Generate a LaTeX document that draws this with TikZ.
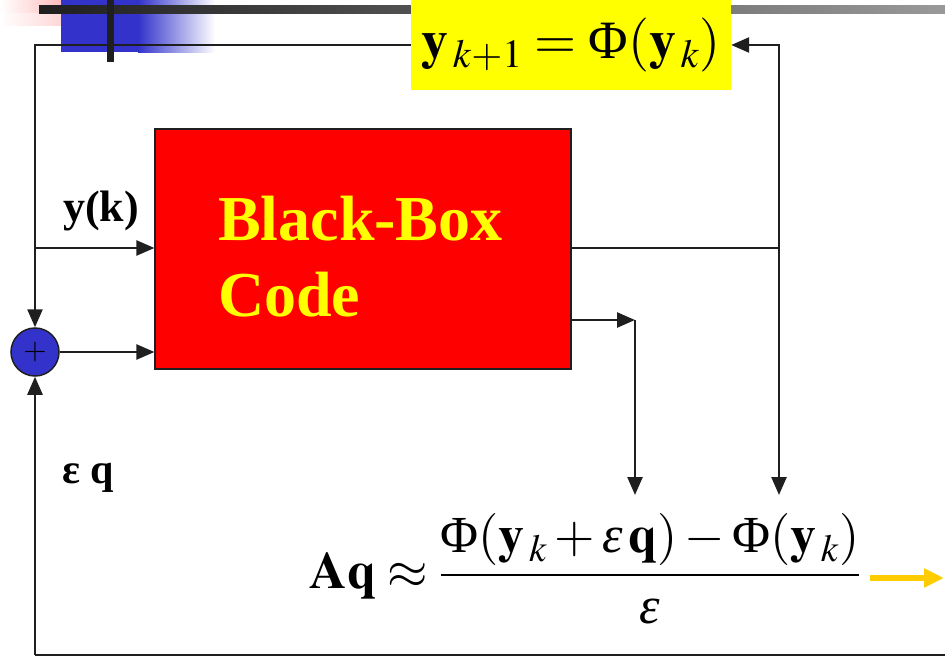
\documentclass[tikz,border=0pt]{standalone}
\usepackage{amsmath}
\usepackage{mathptmx}
\usepackage{fontspec}
\setmainfont{Liberation Serif}
\usetikzlibrary{arrows.meta}
\definecolor{slideblue}{HTML}{3333CC}
\definecolor{boxred}{HTML}{FF0000}
\definecolor{hiyellow}{HTML}{FFFF00}
\definecolor{arrowgold}{HTML}{FFCC00}
\definecolor{barpink}{HTML}{FF9090}
\newcommand{\Phit}{\text{Φ}}
\newcommand{\epst}{\textit{ε}}

\begin{document}
\begin{tikzpicture}[x=1pt, y=-1pt, >={Triangle[length=18pt,width=15pt]},
  wire/.style={line width=2.5pt, draw=black!88},
  bigtxt/.style={font=\fontsize{64}{70}\selectfont\bfseries, text=hiyellow}]
  \useasboundingbox (0,0) rectangle (945,658);
  % slide corner decoration
  \shade[left color=white, right color=barpink!90] (0,0) rectangle (92,26);
  \shade[top color=white, bottom color=white, opacity=0.4] (0,14) rectangle (92,26);
  \fill[slideblue] (61,0) rectangle (138,52);
  \shade[left color=slideblue, right color=white] (138,0) rectangle (215,53);
  \shade[left color=black!88, right color=black!40] (39,6) rectangle (945,14);

  % blocks
  \node[draw=black!88, line width=1.2pt, fill=boxred, minimum width=416pt, minimum height=240pt] (box) at (363,249) {};
  \node[bigtxt, align=left, anchor=west, inner sep=0pt] (boxtxt) at (218,257) {Black-Box\\[6pt]Code};
  \node[fill=hiyellow, minimum width=320pt, minimum height=90pt, font=\fontsize{54}{60}\selectfont] (phi) at (571,45) {$\mathbf{y}_{\,k+1}=\Phit(\mathbf{y}_{\,k})$};
  \node[circle, draw=black!88, line width=1.5pt, fill=slideblue, minimum size=48pt, inner sep=0pt, font=\fontsize{30}{30}\selectfont] (sum) at (35,352) {$+$};

  \node[font=\fontsize{44}{48}\selectfont\bfseries] (ylab) at (101,211) {y(k)};
  \node[font=\fontsize{42}{46}\selectfont\bfseries] (eqlab) at (88,478) {ε q};
  \node[font=\fontsize{52}{60}\selectfont] (aq) at (585,569) {$\displaystyle\mathbf{Aq}\approx\frac{\Phit(\mathbf{y}_{\,k}+\epst\,\mathbf{q})-\Phit(\mathbf{y}_{\,k})}{\epst}$};

  % wiring
  \coordinate (cL) at (35,248);
  \coordinate (cB) at (35,655);
  \coordinate (cR) at (945,655);
  \coordinate (o1) at (779,248);
  \coordinate (d1) at (779,495);
  \coordinate (o2) at (635,320);
  \coordinate (d2) at (635,495);
  \draw[wire, ->] (phi.west) -| (cL) -- (cL -| box.west);
  \draw[wire, ->] (cL) -- (sum.north);
  \draw[wire, ->] (sum.east) -- (sum -| box.west);
  \draw[wire, ->] (cB) -- (sum.south);
  \draw[wire] (cB) -- (cR);
  \draw[wire, ->] (box.east |- o1) -- (o1) |- (phi.east);
  \draw[wire, ->] ([yshift=3pt]o1) -- (d1);
  \draw[wire, ->] (box.east |- o2) -- (o2);
  \draw[wire, ->] (o2) -- (d2);
  \coordinate (ya) at (870,578);
  \coordinate (yb) at (944,578);
  \draw[line width=6pt, arrowgold, -{Triangle[length=20pt,width=18pt]}] (ya) -- (yb);

  \fill[black!88] (107,0) rectangle (114,62);
\end{tikzpicture}
\end{document}
